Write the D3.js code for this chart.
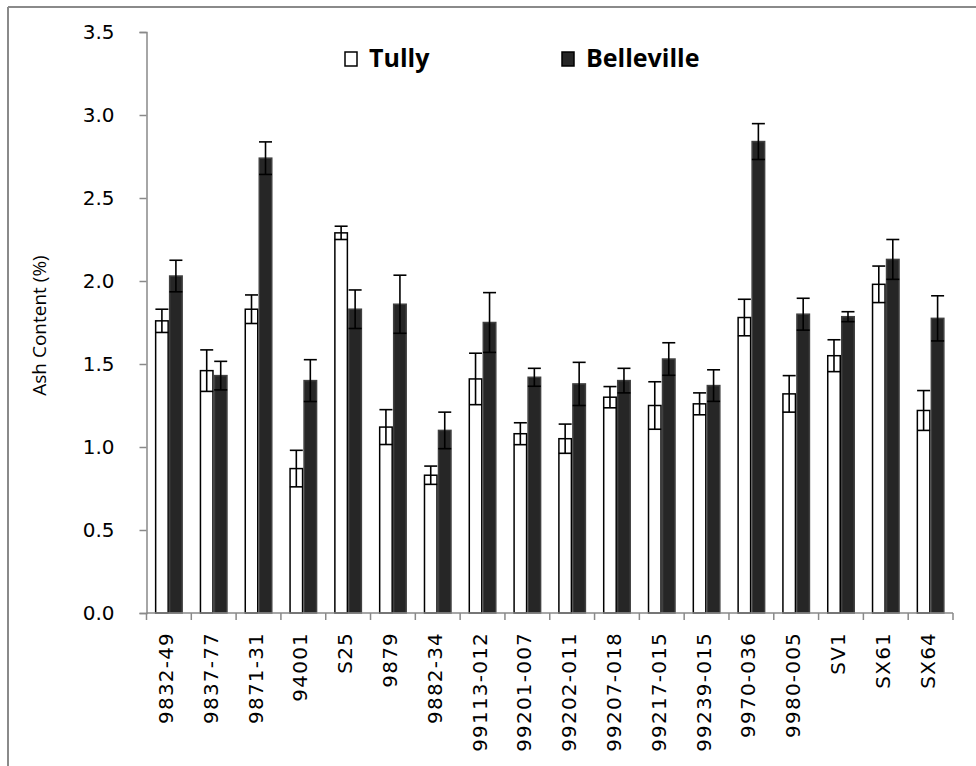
<!DOCTYPE html>
<html>
<head>
<meta charset="utf-8">
<script src="https://cdn.jsdelivr.net/npm/d3@7"></script>
<style>
html,body{margin:0;padding:0;background:#fff;}
svg{display:block;}
</style>
</head>
<body>
<svg id="chart" width="976" height="766"></svg>
<script>
const categories = ["9832-49","9837-77","9871-31","94001","S25","9879","9882-34","99113-012","99201-007","99202-011","99207-018","99217-015","99239-015","9970-036","9980-005","SV1","SX61","SX64"];
const tully      = [1.76,1.46,1.83,0.87,2.29,1.12,0.83,1.41,1.08,1.05,1.30,1.25,1.26,1.78,1.32,1.55,1.98,1.22];
const tullyErr   = [0.07,0.125,0.086,0.11,0.04,0.105,0.055,0.155,0.066,0.088,0.064,0.143,0.066,0.11,0.11,0.096,0.11,0.12];
const belle      = [2.03,1.43,2.74,1.40,1.83,1.86,1.10,1.75,1.42,1.38,1.40,1.53,1.37,2.84,1.80,1.785,2.13,1.775];
const belleErr   = [0.095,0.086,0.098,0.126,0.116,0.175,0.11,0.18,0.054,0.13,0.074,0.098,0.095,0.108,0.096,0.03,0.12,0.136];
const yTicks     = [0,0.5,1.0,1.5,2.0,2.5,3.0,3.5];
const seriesNames = ["Tully","Belleville"];

const svg = d3.select("#chart");
const pLeft = 146.5, pRight = 953, pTop = 32, pBottom = 613;
const axisColor = "#898989";

// outer frame (top and left only)
svg.append("line").attr("x1",8).attr("x2",976).attr("y1",7).attr("y2",7).attr("stroke","#8a8a8a").attr("stroke-width",2);
svg.append("line").attr("x1",8).attr("x2",8).attr("y1",7).attr("y2",766).attr("stroke","#8a8a8a").attr("stroke-width",2);

const x = d3.scaleBand().domain(categories).range([pLeft,pRight]).paddingInner(0).paddingOuter(0);
const xs = d3.scaleBand().domain(seriesNames).range([0,x.bandwidth()]).paddingInner(0).paddingOuter(0.6);
const y = d3.scaleLinear().domain([0,3.5]).range([pBottom,pTop]);

const series = [
  {name:"Tully", vals:tully, err:tullyErr, fill:"#ffffff", stroke:"#000"},
  {name:"Belleville", vals:belle, err:belleErr, fill:"#262626", stroke:"#404040"}
];

const g = svg.append("g");
series.forEach(s=>{
  const grp = g.append("g");
  grp.selectAll("rect").data(categories).join("rect")
    .attr("x",(c)=>x(c)+xs(s.name)+0.75)
    .attr("width",xs.bandwidth()-1.5)
    .attr("y",(c,i)=>y(s.vals[i]))
    .attr("height",(c,i)=>y(0)-y(s.vals[i]))
    .attr("fill",s.fill).attr("stroke",s.stroke).attr("stroke-width",1.5);
});
// error bars
series.forEach(s=>{
  const eg = g.append("g").attr("stroke","#000").attr("stroke-width",1.6);
  categories.forEach((c,i)=>{
    const cx = x(c)+xs(s.name)+xs.bandwidth()/2;
    const hi = y(s.vals[i]+s.err[i]), lo = y(s.vals[i]-s.err[i]);
    eg.append("line").attr("x1",cx).attr("x2",cx).attr("y1",hi).attr("y2",lo);
    eg.append("line").attr("x1",cx-6.5).attr("x2",cx+6.5).attr("y1",hi).attr("y2",hi);
    eg.append("line").attr("x1",cx-6.5).attr("x2",cx+6.5).attr("y1",lo).attr("y2",lo);
  });
});

// y axis
const yAxis = d3.axisLeft(y).tickValues(yTicks).tickFormat(d3.format(".1f")).tickSizeOuter(0).tickSize(7).tickPadding(25);
const yg = svg.append("g").attr("transform",`translate(${pLeft},0)`).call(yAxis);
yg.select(".domain").attr("stroke",axisColor).attr("stroke-width",1.5);
yg.selectAll(".tick line").attr("stroke",axisColor).attr("stroke-width",1.5);
yg.selectAll(".tick text").attr("font-family","DejaVu Sans, Verdana, sans-serif").attr("font-size",20).attr("fill","#000");

// x axis
const xg = svg.append("g").attr("transform",`translate(0,${pBottom})`);
xg.append("line").attr("x1",pLeft).attr("x2",pRight).attr("y1",0).attr("y2",0).attr("stroke",axisColor).attr("stroke-width",1.5);
const bounds = categories.map(c=>x(c)).concat([pRight]);
xg.selectAll("line.tk").data(bounds).join("line").attr("class","tk")
  .attr("x1",d=>d).attr("x2",d=>d).attr("y1",0).attr("y2",7).attr("stroke",axisColor).attr("stroke-width",1.5);
xg.selectAll("text").data(categories).join("text")
  .attr("transform",c=>`translate(${x(c)+x.bandwidth()/2+4},19) rotate(-90)`)
  .attr("text-anchor","end")
  .attr("font-family","DejaVu Sans, Verdana, sans-serif").attr("font-size",20)
  .attr("letter-spacing","1.2px")
  .attr("fill","#000")
  .text(c=>c);

// y title
svg.append("text").attr("transform",`translate(46,${(pTop+pBottom)/2 + 3}) rotate(-90)`)
  .attr("text-anchor","middle").attr("font-family","Open Sans, sans-serif").attr("font-size",19).attr("fill","#000")
  .text("Ash Content (%)");

// legend
const legX = [345,562];
series.forEach((s,i)=>{
  svg.append("rect").attr("x",legX[i]).attr("y",52).attr("width",12).attr("height",14)
    .attr("fill",s.fill).attr("stroke","#000").attr("stroke-width",1.5);
  svg.append("text").attr("x",legX[i]+24).attr("y",67).attr("font-family","Open Sans, sans-serif").attr("font-weight","bold")
    .attr("font-size",25).attr("fill","#000").text(s.name);
});
</script>
</body>
</html>
